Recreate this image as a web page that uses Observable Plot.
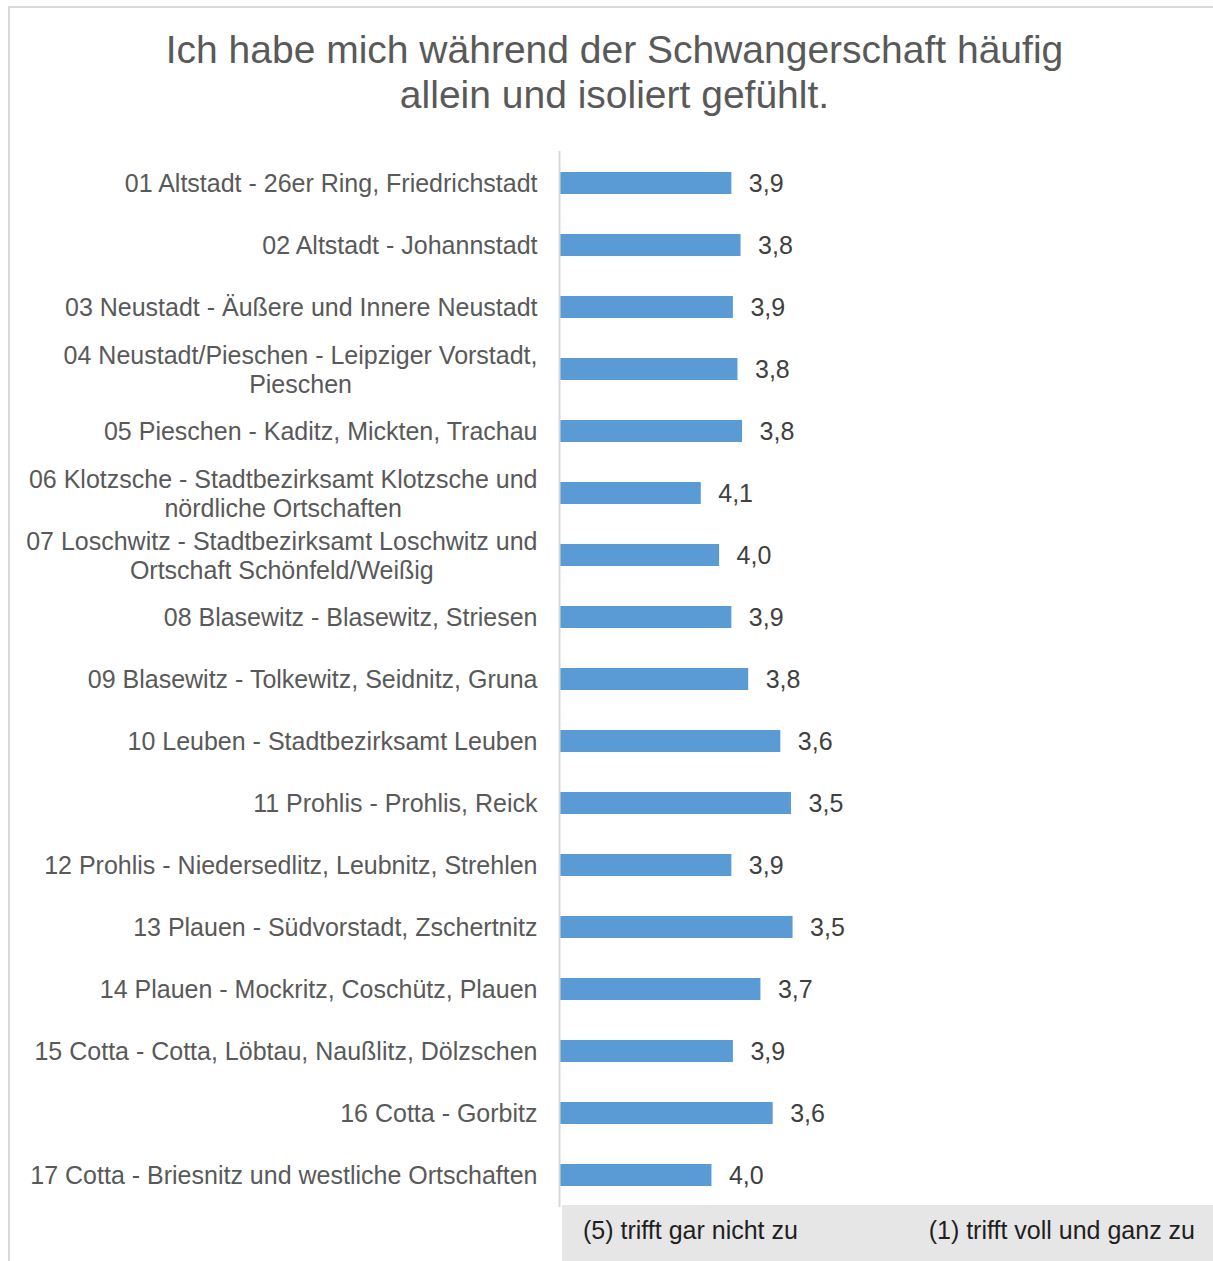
<!DOCTYPE html>
<html>
<head>
<meta charset="utf-8">
<script src="https://cdn.jsdelivr.net/npm/d3@7"></script>
<script src="https://cdn.jsdelivr.net/npm/@observablehq/plot@0.6"></script>
<style>
  html, body { margin: 0; padding: 0; background: #fff; overflow: hidden; }
  body { width: 1213px; height: 1261px; position: relative; font-family: "Liberation Sans", Arial, sans-serif; }
  #frame { position: absolute; left: 8px; top: 6px; width: 1220px; height: 1270px; border-top: 2px solid #d9d9d9; border-left: 2px solid #d9d9d9; box-sizing: border-box; }
  #title { position: absolute; left: 0; top: 27px; width: 1229px; text-align: center; font-size: 39px; line-height: 45px; color: #595959; }
  #chart { position: absolute; left: 0; top: 130px; }
  #scale { position: absolute; left: 562px; top: 1205px; width: 651px; height: 56px; background: #e7e6e6; display: flex; justify-content: space-between; box-sizing: border-box; padding: 0 18px 0 21px; font-size: 25px; line-height: 50px; color: #1f1f1f; }
</style>
</head>
<body>
<div id="frame"></div>
<div id="title">Ich habe mich während der Schwangerschaft häufig<br>allein und isoliert gefühlt.</div>
<div id="chart"></div>
<div id="scale"><span>(5) trifft gar nicht zu</span><span>(1) trifft voll und ganz zu</span></div>
<script>
const categories = [
  "01 Altstadt - 26er Ring, Friedrichstadt",
  "02 Altstadt - Johannstadt",
  "03 Neustadt - Äußere und Innere Neustadt",
  "04 Neustadt/Pieschen - Leipziger Vorstadt,\nPieschen",
  "05 Pieschen - Kaditz, Mickten, Trachau",
  "06 Klotzsche - Stadtbezirksamt Klotzsche und\nnördliche Ortschaften",
  "07 Loschwitz - Stadtbezirksamt Loschwitz und\nOrtschaft Schönfeld/Weißig",
  "08 Blasewitz - Blasewitz, Striesen",
  "09 Blasewitz - Tolkewitz, Seidnitz, Gruna",
  "10 Leuben - Stadtbezirksamt Leuben",
  "11 Prohlis - Prohlis, Reick",
  "12 Prohlis - Niedersedlitz, Leubnitz, Strehlen",
  "13 Plauen - Südvorstadt, Zschertnitz",
  "14 Plauen - Mockritz, Coschütz, Plauen",
  "15 Cotta - Cotta, Löbtau, Naußlitz, Dölzschen",
  "16 Cotta - Gorbitz",
  "17 Cotta - Briesnitz und westliche Ortschaften"
];
const values = [3.88, 3.82, 3.87, 3.84, 3.81, 4.08, 3.96, 3.88, 3.77, 3.56, 3.49, 3.88, 3.48, 3.69, 3.87, 3.61, 4.01];
const scaleDomain = [5, 1];

const data = categories.map((c, i) => ({category: c, value: values[i], label: values[i].toFixed(1).replace(".", ",")}));

const FONT = '"Liberation Sans", Arial, sans-serif';
const ctx = document.createElement("canvas").getContext("2d");
ctx.font = `25px ${FONT}`;
const textWidth = s => ctx.measureText(s).width;

const single = data.filter(d => !d.category.includes("\n"));
const multi = data.filter(d => d.category.includes("\n"));

const labelPad = 23;

const marks = [
  Plot.barX(data, {y: "category", x1: scaleDomain[0], x2: "value", fill: "#5b9bd5"}),
  Plot.ruleX([scaleDomain[0]], {stroke: "#d9d9d9", strokeWidth: 2, dx: -1}),
  Plot.text(data, {y: "category", x: "value", text: "label", textAnchor: "start", dx: 17, fontSize: 25, fill: "#404040"}),
  Plot.text(single, {y: "category", x: scaleDomain[0], text: "category", textAnchor: "end", dx: -labelPad, fontSize: 25, fill: "#595959"}),
  ...multi.map(d => {
    const w = Math.max(...d.category.split("\n").map(textWidth));
    return Plot.text([d], {y: "category", x: scaleDomain[0], text: "category", textAnchor: "middle", lineHeight: 1.16, dx: -labelPad - w / 2, fontSize: 25, fill: "#595959"});
  })
];

const chart = Plot.plot({
  width: 1213,
  height: 1078,
  marginLeft: 560,
  marginRight: 41,
  marginTop: 21,
  marginBottom: 1,
  style: {fontFamily: FONT, fontSize: "25px", background: "transparent", overflow: "visible"},
  x: {domain: scaleDomain, axis: null},
  y: {domain: categories, axis: null, paddingInner: 0.645, paddingOuter: 0.3225},
  marks
});
document.getElementById("chart").appendChild(chart);
</script>
</body>
</html>
